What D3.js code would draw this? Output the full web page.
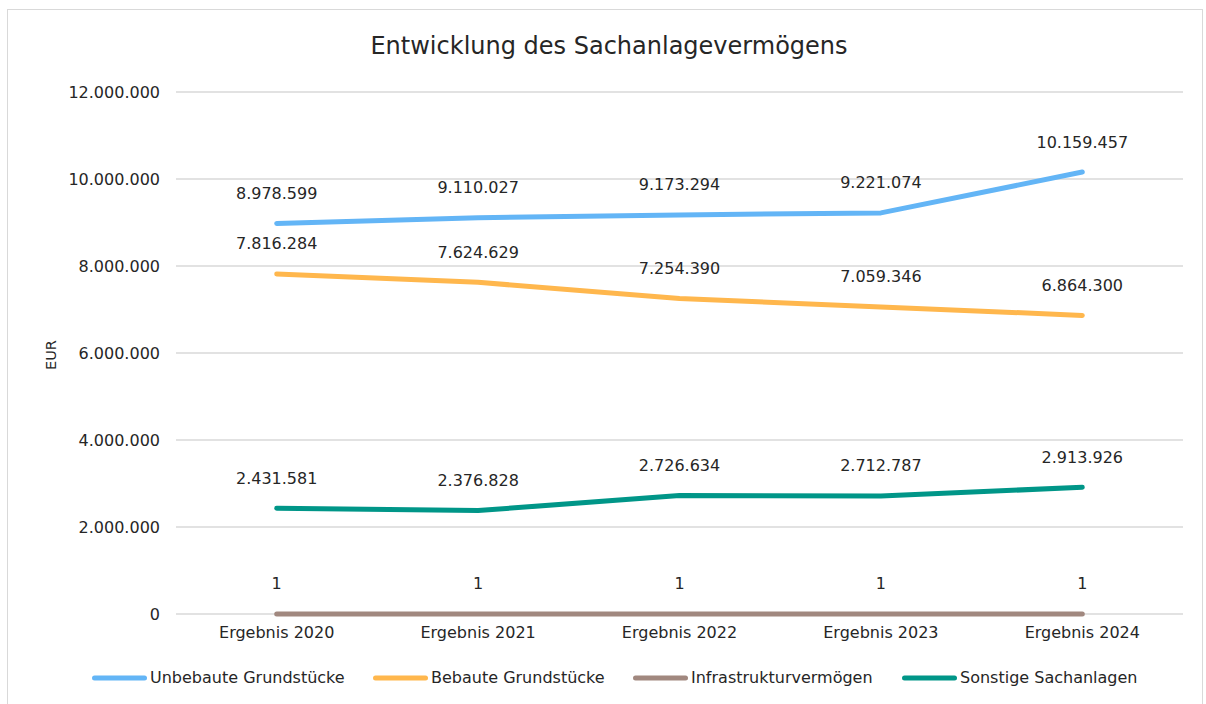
<!DOCTYPE html>
<meta charset="utf-8">
<script src="https://d3js.org/d3.v7.min.js"></script>
<body style="margin:0;background:#fff">
<svg width="1206" height="704"></svg>
<style>
body{ font-family: 'DejaVu Sans'; }
text{ fill:#262626; }
</style>
<script>
const categories = ['Ergebnis 2020','Ergebnis 2021','Ergebnis 2022','Ergebnis 2023','Ergebnis 2024'];
const seriesNames = ['Unbebaute Grundstücke','Bebaute Grundstücke','Infrastrukturvermögen','Sonstige Sachanlagen'];
const unbebaut = [8978599, 9110027, 9173294, 9221074, 10159457];
const bebaut = [7816284, 7624629, 7254390, 7059346, 6864300];
const infra = [1, 1, 1, 1, 1];
const sonstige = [2431581, 2376828, 2726634, 2712787, 2913926];
const yTicks = [0, 2000000, 4000000, 6000000, 8000000, 10000000, 12000000];
const colors = ['#63b5f6','#ffb74d','#a1887f','#009688'];

const allSeries = [unbebaut, bebaut, infra, sonstige];
const fmt = v => d3.format(',')(v).replace(/,/g, '.');
const FS = 16;

var svg = d3.select('svg');

// outer frame
svg.append('rect')
    .attr('x', 7.5).attr('y', 9.5)
    .attr('width', 1195).attr('height', 720)
    .attr('fill', 'none').attr('stroke', '#d9d9d9');

var x = d3.scaleBand().domain(categories).range([176, 1183]);
var y = d3.scaleLinear().domain([0, 12000000]).range([614, 92]);

// grid
svg.selectAll('line.grid').data(yTicks).enter().append('line')
    .attr('class', 'grid')
    .attr('x1', 176).attr('x2', 1183)
    .attr('y1', d => y(d)).attr('y2', d => y(d))
    .attr('stroke', '#d9d9d9').attr('stroke-width', 1.3);

// y axis
var yAxis = svg.append('g')
    .attr('transform', 'translate(176,0)')
    .call(d3.axisLeft(y).tickValues(yTicks).tickFormat(fmt).tickSize(0).tickPadding(16));
yAxis.select('.domain').remove();
yAxis.selectAll('text').attr('font-size', FS).attr('font-family', 'DejaVu Sans').attr('fill', '#262626');

// x axis
var xAxis = svg.append('g')
    .attr('transform', 'translate(0,614)')
    .call(d3.axisBottom(x).tickSize(0).tickPadding(13));
xAxis.select('.domain').remove();
xAxis.selectAll('text').attr('font-size', FS).attr('font-family', 'DejaVu Sans').attr('fill', '#262626');

var cx = d => x(d) + x.bandwidth() / 2;

var line = d3.line()
    .x((d, i) => cx(categories[i]))
    .y(d => y(d));

allSeries.forEach(function(s, k){
    svg.append('path')
        .datum(s)
        .attr('fill', 'none')
        .attr('stroke', colors[k])
        .attr('stroke-width', 5)
        .attr('stroke-linecap', 'round')
        .attr('stroke-linejoin', 'round')
        .attr('d', line);
});

allSeries.forEach(function(s, k){
    svg.selectAll('text.lbl' + k).data(s).enter().append('text')
        .attr('class', 'lbl' + k)
        .attr('x', (d, i) => cx(categories[i]))
        .attr('y', d => y(d) - 29)
        .attr('text-anchor', 'middle')
        .attr('dominant-baseline', 'middle')
        .attr('font-size', FS)
        .text(fmt);
});

// title
svg.append('text')
    .attr('x', 609).attr('y', 47)
    .attr('text-anchor', 'middle')
    .attr('dominant-baseline', 'middle')
    .attr('font-size', 24)
    .text('Entwicklung des Sachanlagevermögens');

// y label
svg.append('text')
    .attr('transform', 'translate(52,355) rotate(-90)')
    .attr('text-anchor', 'middle')
    .attr('dominant-baseline', 'middle')
    .attr('font-size', 14.5)
    .text('EUR');

// legend
const legendX = [92, 373, 633, 902];
var leg = svg.selectAll('g.leg').data(seriesNames).enter().append('g')
    .attr('class', 'leg')
    .attr('transform', (d, i) => `translate(${legendX[i]},678)`);
leg.append('line')
    .attr('x1', 2.5).attr('x2', 52.5)
    .attr('stroke', (d, i) => colors[i])
    .attr('stroke-width', 5)
    .attr('stroke-linecap', 'round');
leg.append('text')
    .attr('x', 58)
    .attr('dominant-baseline', 'middle')
    .attr('font-size', FS)
    .text(d => d);
</script>
</body>
